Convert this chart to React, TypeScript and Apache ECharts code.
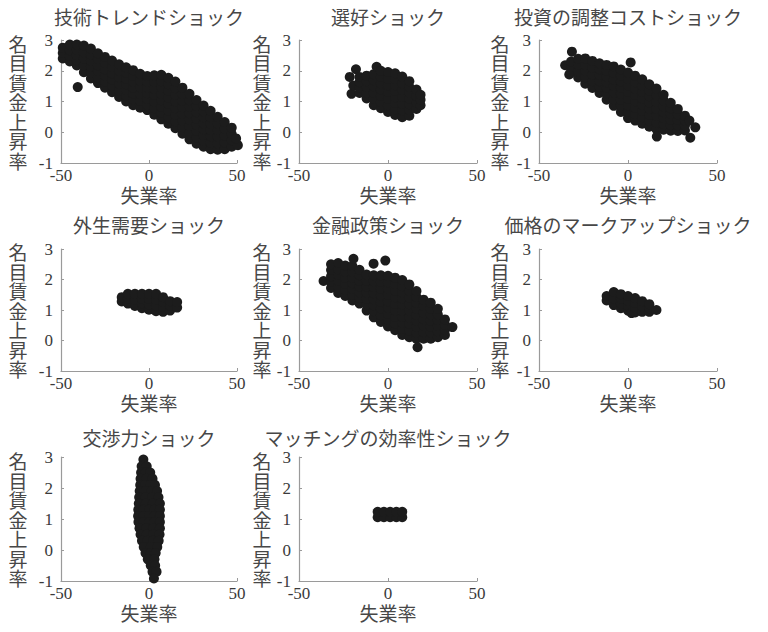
import { useEffect, useRef } from 'react';
import * as echarts from 'echarts';

// ---- text ----
const panelTitles = [
  '技術トレンドショック',
  '選好ショック',
  '投資の調整コストショック',
  '外生需要ショック',
  '金融政策ショック',
  '価格のマークアップショック',
  '交渉力ショック',
  'マッチングの効率性ショック',
];
const xAxisTitle = '失業率';
const yAxisTitle = '名目賃金上昇率';

// ---- axis ranges ----
const X_MIN = -50;
const X_MAX = 50;
const X_INTERVAL = 50;
const Y_MIN = -1;
const Y_MAX = 3;
const Y_INTERVAL = 1;

// ---- data (unemployment rate, nominal wage growth) ----
const techTrend: number[][] = [
  [-49, 2.4], [-49, 2.58], [-49, 2.75],
  [-45, 2.3], [-45, 2.48], [-45, 2.67], [-45, 2.85],
  [-41, 2.17], [-41, 2.34], [-41, 2.51], [-41, 2.68], [-41, 2.85], [-40.5, 1.47],
  [-37, 1.95], [-37, 2.17], [-37, 2.39], [-37, 2.6], [-37, 2.82],
  [-33, 1.75], [-33, 1.94], [-33, 2.14], [-33, 2.33], [-33, 2.53], [-33, 2.72],
  [-29, 1.6], [-29, 1.79], [-29, 1.99], [-29, 2.18], [-29, 2.38], [-29, 2.57],
  [-25, 1.45], [-25, 1.65], [-25, 1.85], [-25, 2.05], [-25, 2.25], [-25, 2.45],
  [-21, 1.3], [-21, 1.51], [-21, 1.71], [-21, 1.92], [-21, 2.12], [-21, 2.33],
  [-17, 1.15], [-17, 1.36], [-17, 1.57], [-17, 1.79], [-17, 2.0], [-17, 2.21],
  [-13, 1.0], [-13, 1.19], [-13, 1.37], [-13, 1.56], [-13, 1.74], [-13, 1.93], [-13, 2.11],
  [-9, 0.88], [-9, 1.07], [-9, 1.26], [-9, 1.45], [-9, 1.64], [-9, 1.83], [-9, 2.02],
  [-5, 0.8], [-5, 1.02], [-5, 1.24], [-5, 1.46], [-5, 1.68], [-5, 1.9],
  [-1, 0.72], [-1, 0.9], [-1, 1.09], [-1, 1.27], [-1, 1.46], [-1, 1.64], [-1, 1.83],
  [3, 0.57], [3, 0.78], [3, 0.99], [3, 1.21], [3, 1.42], [3, 1.64], [3, 1.85],
  [7, 0.42], [7, 0.63], [7, 0.83], [7, 1.04], [7, 1.25], [7, 1.46], [7, 1.66], [7, 1.87],
  [11, 0.28], [11, 0.49], [11, 0.71], [11, 0.92], [11, 1.13], [11, 1.35], [11, 1.56], [11, 1.77],
  [15, 0.13], [15, 0.35], [15, 0.56], [15, 0.78], [15, 1.0], [15, 1.21], [15, 1.43], [15, 1.65],
  [19, -0.05], [19, 0.16], [19, 0.38], [19, 0.59], [19, 0.81], [19, 1.02], [19, 1.24], [19, 1.45],
  [23, -0.23], [23, -0.02], [23, 0.2], [23, 0.41], [23, 0.62], [23, 0.83], [23, 1.04], [23, 1.25],
  [27, -0.37], [27, -0.17], [27, 0.04], [27, 0.24], [27, 0.44], [27, 0.65], [27, 0.85], [27, 1.05],
  [31, -0.47], [31, -0.28], [31, -0.09], [31, 0.1], [31, 0.29], [31, 0.49], [31, 0.68], [31, 0.87],
  [35, -0.55], [35, -0.34], [35, -0.13], [35, 0.07], [35, 0.28], [35, 0.49], [35, 0.7],
  [39, -0.57], [39, -0.36], [39, -0.14], [39, 0.07], [39, 0.29], [39, 0.5],
  [43, -0.55], [43, -0.33], [43, -0.11], [43, 0.11], [43, 0.33],
  [47, -0.47], [47, -0.26], [47, -0.06], [47, 0.15],
  [50.5, -0.42], [49.5, -0.2],
];

const preference: number[][] = [
  [-21.5, 1.8], [-20.5, 1.25], [-19.5, 1.52], [-18, 2.05],
  [-16, 1.28], [-16, 1.45], [-16, 1.63], [-16, 1.8],
  [-12, 1.1], [-12, 1.29], [-12, 1.47], [-12, 1.66], [-12, 1.84],
  [-8, 0.88], [-8, 1.08], [-8, 1.28], [-8, 1.49], [-8, 1.69], [-8, 1.89], [-6.4, 2.13],
  [-4, 0.78], [-4, 0.98], [-4, 1.19], [-4, 1.39], [-4, 1.59], [-4, 1.8], [-4, 2.0],
  [0, 0.66], [0, 0.88], [0, 1.09], [0, 1.31], [0, 1.53], [0, 1.74], [0, 1.96],
  [4, 0.56], [4, 0.75], [4, 0.95], [4, 1.14], [4, 1.34], [4, 1.53], [4, 1.73], [4, 1.92],
  [8, 0.49], [8, 0.71], [8, 0.93], [8, 1.15], [8, 1.37], [8, 1.59], [8, 1.81],
  [12, 0.54], [12, 0.73], [12, 0.91], [12, 1.1], [12, 1.29], [12, 1.47], [12, 1.66],
  [16, 0.76], [16, 0.97], [16, 1.18], [16, 1.39],
  [18.3, 0.88], [18.3, 1.06], [18.3, 1.22],
];

const investCost: number[][] = [
  [-35.3, 2.18], [-31.5, 2.62], [-33, 1.88],
  [-32, 1.95], [-32, 2.12], [-32, 2.3],
  [-28, 1.78], [-28, 1.98], [-28, 2.19], [-28, 2.39],
  [-24, 1.58], [-24, 1.79], [-24, 1.99], [-24, 2.2], [-24, 2.4],
  [-20, 1.44], [-20, 1.66], [-20, 1.88], [-20, 2.1], [-20, 2.32],
  [-16, 1.28], [-16, 1.47], [-16, 1.66], [-16, 1.86], [-16, 2.05], [-16, 2.24],
  [-12, 1.06], [-12, 1.25], [-12, 1.44], [-12, 1.63], [-12, 1.81], [-12, 2.0], [-12, 2.19],
  [-8, 0.86], [-8, 1.07], [-8, 1.29], [-8, 1.5], [-8, 1.71], [-8, 1.93], [-8, 2.14],
  [-4, 0.66], [-4, 0.86], [-4, 1.05], [-4, 1.25], [-4, 1.45], [-4, 1.65], [-4, 1.84], [-4, 2.04],
  [0, 0.46], [0, 0.67], [0, 0.88], [0, 1.09], [0, 1.31], [0, 1.52], [0, 1.73], [0, 1.94], [1.5, 2.27],
  [4, 0.38], [4, 0.59], [4, 0.8], [4, 1.01], [4, 1.21], [4, 1.42], [4, 1.63], [4, 1.84],
  [8, 0.28], [8, 0.49], [8, 0.69], [8, 0.9], [8, 1.1], [8, 1.31], [8, 1.51], [8, 1.72],
  [12, 0.18], [12, 0.38], [12, 0.57], [12, 0.77], [12, 0.97], [12, 1.17], [12, 1.36], [12, 1.56],
  [16, 0.1], [16, 0.32], [16, 0.54], [16, 0.76], [16, 0.98], [16, 1.2], [16, 1.42], [16.2, -0.14],
  [20, 0.08], [20, 0.27], [20, 0.46], [20, 0.65], [20, 0.84], [20, 1.03], [20, 1.22],
  [24, 0.05], [24, 0.23], [24, 0.41], [24, 0.6], [24, 0.78], [24, 0.96],
  [28, 0.04], [28, 0.22], [28, 0.4], [28, 0.58], [28, 0.76],
  [32, 0.06], [32, 0.22], [32, 0.38], [32, 0.54],
  [34.5, 0.38], [37.8, 0.16], [35, -0.18],
];

const externalDemand: number[][] = [
  [-15.5, 1.28], [-15.5, 1.42],
  [-12, 1.21], [-12, 1.37], [-12, 1.53],
  [-8, 1.13], [-8, 1.33], [-8, 1.53],
  [-4, 1.06], [-4, 1.22], [-4, 1.37], [-4, 1.53],
  [0, 1.01], [0, 1.18], [0, 1.36], [0, 1.53],
  [4, 0.96], [4, 1.15], [4, 1.34], [4, 1.53],
  [8, 0.94], [8, 1.1], [8, 1.26], [8, 1.42],
  [12, 0.98], [12, 1.14], [12, 1.29],
  [16, 1.08], [16, 1.26],
];

const monetaryPolicy: number[][] = [
  [-36.2, 1.95],
  [-32, 1.72], [-32, 1.92], [-32, 2.11], [-32, 2.31], [-32, 2.5],
  [-28, 1.56], [-28, 1.76], [-28, 1.95], [-28, 2.15], [-28, 2.34], [-28, 2.54],
  [-24, 1.46], [-24, 1.66], [-24, 1.86], [-24, 2.06], [-24, 2.26], [-24, 2.46],
  [-20, 1.31], [-20, 1.5], [-20, 1.69], [-20, 1.88], [-20, 2.06], [-20, 2.25], [-20, 2.44], [-19.4, 2.68],
  [-16, 1.21], [-16, 1.4], [-16, 1.58], [-16, 1.77], [-16, 1.95], [-16, 2.14], [-16, 2.32],
  [-12, 0.98], [-12, 1.18], [-12, 1.37], [-12, 1.57], [-12, 1.77], [-12, 1.96], [-12, 2.16],
  [-8, 0.76], [-8, 0.96], [-8, 1.15], [-8, 1.35], [-8, 1.55], [-8, 1.75], [-8, 1.94], [-8, 2.14], [-8.1, 2.52],
  [-4, 0.61], [-4, 0.83], [-4, 1.05], [-4, 1.27], [-4, 1.48], [-4, 1.7], [-4, 1.92], [-4, 2.14],
  [0, 0.46], [0, 0.67], [0, 0.87], [0, 1.08], [0, 1.29], [0, 1.5], [0, 1.71], [0, 1.91], [0, 2.12], [-1.5, 2.62],
  [4, 0.34], [4, 0.56], [4, 0.77], [4, 0.99], [4, 1.2], [4, 1.42], [4, 1.63], [4, 1.85], [4, 2.06],
  [8, 0.18], [8, 0.38], [8, 0.58], [8, 0.78], [8, 0.98], [8, 1.18], [8, 1.38], [8, 1.58], [8, 1.78], [8, 1.98],
  [12, 0.11], [12, 0.33], [12, 0.54], [12, 0.76], [12, 0.98], [12, 1.19], [12, 1.41], [12, 1.62], [12, 1.84],
  [16, 0.06], [16, 0.26], [16, 0.45], [16, 0.65], [16, 0.84], [16, 1.04], [16, 1.23], [16, 1.43], [16, 1.62], [16.6, -0.22],
  [20, 0.06], [20, 0.27], [20, 0.49], [20, 0.7], [20, 0.91], [20, 1.13], [20, 1.34],
  [24, 0.06], [24, 0.26], [24, 0.45], [24, 0.65], [24, 0.85], [24, 1.04], [24, 1.24],
  [28, 0.11], [28, 0.3], [28, 0.48], [28, 0.67], [28, 0.85], [28, 1.04],
  [32, 0.18], [32, 0.35], [32, 0.52], [32, 0.69],
  [36.2, 0.44],
];

const priceMarkup: number[][] = [
  [-12, 1.31], [-12, 1.46],
  [-8, 1.16], [-8, 1.37], [-8, 1.59],
  [-4, 1.06], [-4, 1.21], [-4, 1.37], [-4, 1.52],
  [0, 0.98], [0, 1.14], [0, 1.3], [0, 1.46], [2, 0.9],
  [4, 0.92], [4, 1.08], [4, 1.23], [4, 1.39],
  [8, 0.94], [8, 1.12], [8, 1.29],
  [12, 0.94], [12, 1.06], [12, 1.19],
  [16, 1.0],
];

const bargainingPower: number[][] = [
  [-3.2, 2.92],
  [-4.2, 2.7], [-1.3, 2.7],
  [-4.5, 2.5], [-1.9, 2.5], [0.7, 2.5],
  [-4.8, 2.3], [-1.4, 2.3], [2, 2.3],
  [-5, 2.1], [-2.2, 2.1], [0.6, 2.1], [3.4, 2.1],
  [-5.3, 1.9], [-2, 1.9], [1.3, 1.9], [4.6, 1.9],
  [-5.6, 1.7], [-1.9, 1.7], [1.8, 1.7], [5.4, 1.7],
  [-5.8, 1.5], [-1.8, 1.5], [2.2, 1.5], [6.2, 1.5],
  [-6.1, 1.3], [-3, 1.3], [0, 1.3], [3.1, 1.3], [6.2, 1.3],
  [-6.2, 1.1], [-3.1, 1.1], [0, 1.1], [3.1, 1.1], [6.2, 1.1],
  [-6, 0.9], [-3, 0.9], [0.1, 0.9], [3.1, 0.9], [6.2, 0.9],
  [-5.4, 0.7], [-1.5, 0.7], [2.3, 0.7], [6.2, 0.7],
  [-4.8, 0.5], [-1.2, 0.5], [2.4, 0.5], [6, 0.5],
  [-4, 0.3], [-0.8, 0.3], [2.3, 0.3], [5.5, 0.3],
  [-3, 0.1], [0.9, 0.1], [4.7, 0.1],
  [-2, -0.1], [0.9, -0.1], [3.8, -0.1],
  [-0.7, -0.3], [3.1, -0.3],
  [1, -0.5], [3.5, -0.5],
  [2, -0.7], [4.3, -0.7],
  [2.8, -0.92],
];

const matchingEfficiency: number[][] = [
  [-5.8, 1.06], [-2.3, 1.06], [1.2, 1.06], [4.7, 1.06], [8, 1.06],
  [-5.8, 1.23], [-2.3, 1.23], [1.2, 1.23], [4.7, 1.23], [8, 1.23],
];

const panelData = [
  techTrend,
  preference,
  investCost,
  externalDemand,
  monetaryPolicy,
  priceMarkup,
  bargainingPower,
  matchingEfficiency,
];

// ---- layout ----
const COL_LEFT = [61, 299, 539];
const COL_WIDTH = [176, 178, 178];
const ROW_TOP = [40, 249, 457];
const ROW_HEIGHT = [123, 122, 124];
const TITLE_Y = [16, 224, 437];
const Y_NAME_GAP = [43, 37, 39];

const SERIF = "'Liberation Serif', 'DejaVu Serif', serif";
const CJK = "'Noto Sans CJK JP', 'Noto Sans CJK SC', sans-serif";
const TEXT_COLOR = '#3a3a3a';
const CJK_COLOR = '#474747';
const AXIS_COLOR = '#9a9a9a';
const DOT_COLOR = '#1c1c1c';

export default function App() {
  const ref = useRef<HTMLDivElement>(null);

  useEffect(() => {
    if (!ref.current) return;
    const chart = echarts.init(ref.current, undefined, { renderer: 'svg' });

    const grids: any[] = [];
    const xAxes: any[] = [];
    const yAxes: any[] = [];
    const series: any[] = [];
    const graphics: any[] = [];

    panelData.forEach((data, i) => {
      const r = Math.floor(i / 3);
      const c = i % 3;
      grids.push({
        left: COL_LEFT[c],
        top: ROW_TOP[r],
        width: COL_WIDTH[c],
        height: ROW_HEIGHT[r],
        containLabel: false,
        outerBoundsMode: 'none',
      });
      xAxes.push({
        gridIndex: i,
        type: 'value',
        min: X_MIN,
        max: X_MAX,
        interval: X_INTERVAL,
        name: xAxisTitle,
        nameLocation: 'middle',
        nameGap: 14,
        nameTextStyle: {
          fontFamily: CJK,
          fontSize: 19,
          color: CJK_COLOR,
          verticalAlign: 'top',
        },
        axisLine: { onZero: false, lineStyle: { color: AXIS_COLOR, width: 1.2 } },
        axisTick: { show: true, inside: true, length: 3, lineStyle: { color: AXIS_COLOR } },
        axisLabel: { margin: 4, fontSize: 17, fontFamily: SERIF, color: TEXT_COLOR },
        splitLine: { show: false },
      });
      yAxes.push({
        gridIndex: i,
        type: 'value',
        min: Y_MIN,
        max: Y_MAX,
        interval: Y_INTERVAL,
        name: yAxisTitle.split('').join('\n'),
        nameLocation: 'middle',
        nameRotate: 0,
        nameGap: Y_NAME_GAP[c],
        nameTextStyle: {
          fontFamily: CJK,
          fontSize: 19,
          lineHeight: 19.5,
          color: CJK_COLOR,
          align: 'center',
          verticalAlign: 'middle',
          padding: [0, 0, 10, 0],
        },
        axisLine: { onZero: false, lineStyle: { color: AXIS_COLOR, width: 1.2 } },
        axisTick: { show: true, inside: true, length: 3, lineStyle: { color: AXIS_COLOR } },
        axisLabel: { margin: 8, fontSize: 17, fontFamily: SERIF, color: TEXT_COLOR },
        splitLine: { show: false },
      });
      series.push({
        type: 'scatter',
        xAxisIndex: i,
        yAxisIndex: i,
        data,
        symbol: 'circle',
        symbolSize: 10,
        clip: false,
        itemStyle: { color: DOT_COLOR, opacity: 1 },
        emphasis: { disabled: true },
      });
      graphics.push({
        type: 'text',
        x: COL_LEFT[c] + COL_WIDTH[c] / 2,
        y: TITLE_Y[r],
        style: {
          text: panelTitles[i],
          fontFamily: CJK,
          fontSize: 19,
          fill: CJK_COLOR,
          align: 'center',
          verticalAlign: 'middle',
          textAlign: 'center',
          textVerticalAlign: 'middle',
        },
      });
    });

    chart.setOption({
      animation: false,
      backgroundColor: '#ffffff',
      grid: grids,
      xAxis: xAxes,
      yAxis: yAxes,
      series,
      graphic: graphics,
    });

    return () => {
      chart.dispose();
    };
  }, []);

  return (
    <div
      ref={ref}
      style={{ position: 'absolute', left: 0, top: 0, width: 768, height: 632 }}
    />
  );
}
